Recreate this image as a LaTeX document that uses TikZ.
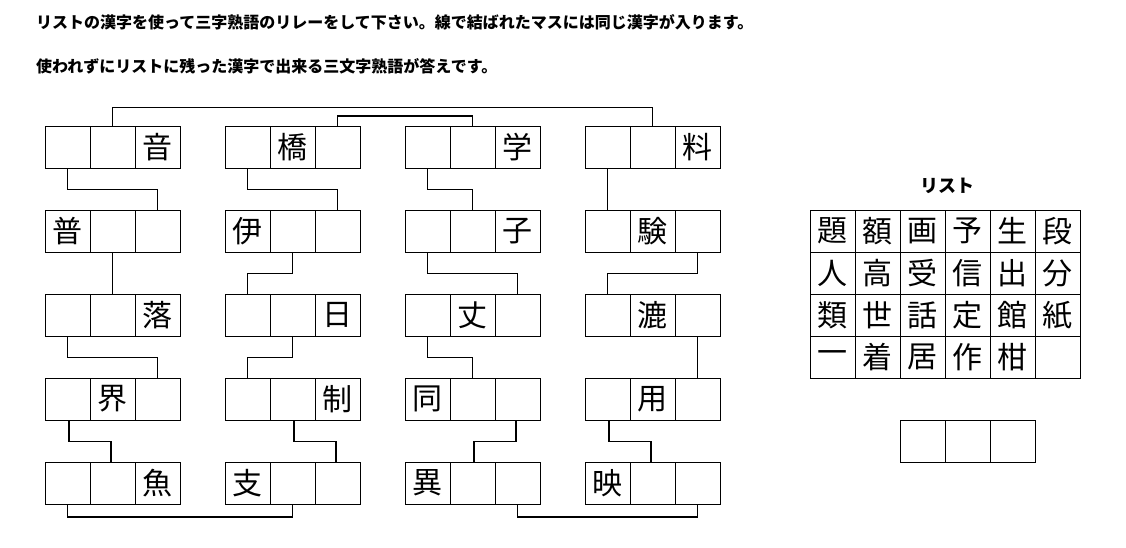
\documentclass[tikz,border=0pt]{standalone}
\usepackage{fontspec}
\newfontfamily\cjk{Noto Sans CJK JP}
\begin{document}
\begin{tikzpicture}[x=1pt,y=-1pt,
  cellbox/.style={draw, line width=0.9pt, minimum width=45pt, minimum height=42pt, inner sep=0pt, font=\cjk\fontsize{30}{30}\selectfont},
  link/.style={line width=1.6pt},
  titletext/.style={anchor=west, inner sep=0pt, font=\cjk\bfseries\fontsize{16}{16}\selectfont}]
\useasboundingbox (0,0) rectangle (1126,547);
\fill[white] (0,0) rectangle (1126,547);
\node[titletext] (t1) at (36,22) {リストの漢字を使って三字熟語のリレーをして下さい。線で結ばれたマスには同じ漢字が入ります。};
\node[titletext] (t2) at (36,66) {使われずにリストに残った漢字で出来る三文字熟語が答えです。};
% puzzle cells
\foreach \g/\r/\a/\b/\d in {
  1/1/{}/{}/音, 2/1/{}/橋/{}, 3/1/{}/{}/学, 4/1/{}/{}/料,
  1/2/普/{}/{}, 2/2/伊/{}/{}, 3/2/{}/{}/子, 4/2/{}/験/{},
  1/3/{}/{}/落, 2/3/{}/{}/日, 3/3/{}/丈/{}, 4/3/{}/漉/{},
  1/4/{}/界/{}, 2/4/{}/{}/制, 3/4/同/{}/{}, 4/4/{}/用/{},
  1/5/{}/{}/魚, 2/5/支/{}/{}, 3/5/異/{}/{}, 4/5/映/{}/{}}{
  \pgfmathsetmacro\gx{45+180*(\g-1)}
  \pgfmathsetmacro\ry{147+84*(\r-1)}
  \node[cellbox] (g\g-\r-1) at (\gx+22.5,\ry) {\a};
  \node[cellbox] (g\g-\r-2) at (\gx+67.5,\ry) {\b};
  \node[cellbox] (g\g-\r-3) at (\gx+112.5,\ry) {\d};
}
% top connectors
\draw[link] (g1-1-2.north) -- ++(0,-18) -| (g4-1-2.north);
\draw[link] (g2-1-3.north) -- ++(0,-9.5) -| (g3-1-2.north);
% row 1 -> 2
\draw[link] (g1-1-1.south) -- ++(0,21) -| (g1-2-3.north);
\draw[link] (g2-1-1.south) -- ++(0,21) -| (g2-2-3.north);
\draw[link] (g3-1-1.south) -- ++(0,21) -| (g3-2-2.north);
\draw[link] (g4-1-1.south) -- (g4-2-1.north);
% row 2 -> 3
\draw[link] (g1-2-2.south) -- (g1-3-2.north);
\draw[link] (g2-2-2.south) -- ++(0,21) -| (g2-3-1.north);
\draw[link] (g3-2-1.south) -- ++(0,21) -| (g3-3-3.north);
\draw[link] (g4-2-3.south) -- ++(0,21) -| (g4-3-1.north);
% row 3 -> 4
\draw[link] (g1-3-1.south) -- ++(0,21) -| (g1-4-3.north);
\draw[link] (g2-3-2.south) -- ++(0,21) -| (g2-4-1.north);
\draw[link] (g3-3-1.south) -- ++(0,21) -| (g3-4-2.north);
\draw[link] (g4-3-3.south) -- (g4-4-3.north);
% row 4 -> 5
\draw[link] ([xshift=1.5pt]g1-4-1.south) -- ++(0,21) -| ([xshift=-1.5pt]g1-5-2.north);
\draw[link] ([xshift=1.5pt]g2-4-2.south) -- ++(0,21) -| ([xshift=-1.5pt]g2-5-3.north);
\draw[link] ([xshift=-1.5pt]g3-4-3.south) -- ++(0,21) -| ([xshift=1.5pt]g3-5-2.north);
\draw[link] ([xshift=1.5pt]g4-4-1.south) -- ++(0,21) -| ([xshift=-1.5pt]g4-5-2.north);
% bottom connectors
\draw[link] (g1-5-1.south) -- ++(0,12.5) -| (g2-5-2.south);
\draw[link] (g3-5-3.south) -- ++(0,12.5) -| (g4-5-3.south);
% list
\node[inner sep=0pt, font=\cjk\bfseries\fontsize{18}{18}\selectfont] (lt) at (947,186) {リスト};
\foreach \t [count=\i from 0] in {題,額,画,予,生,段,人,高,受,信,出,分,類,世,話,定,館,紙,一,着,居,作,柑,{}}{
  \pgfmathtruncatemacro\cx{mod(\i,6)}
  \pgfmathtruncatemacro\cy{div(\i,6)}
  \node[cellbox] (l\i) at (832.5+45*\cx, 231+42*\cy) {\t};
}
% answer boxes
\foreach \i in {0,1,2}{
  \node[cellbox] (a\i) at (922.5+45*\i, 441) {};
}
\end{tikzpicture}
\end{document}
